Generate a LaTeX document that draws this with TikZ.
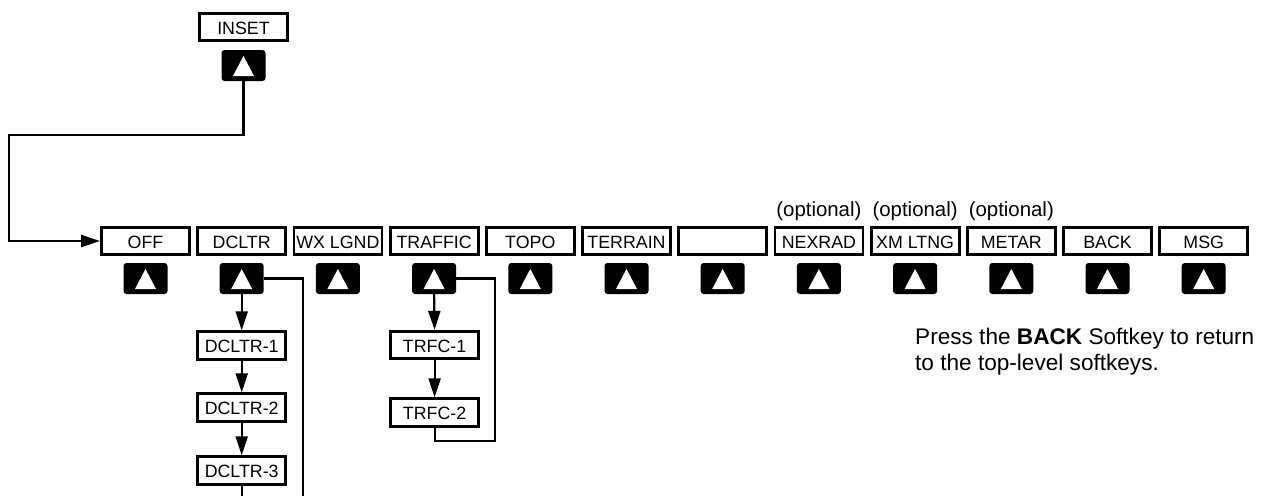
\documentclass[tikz,border=0pt]{standalone}
\usepackage{fontspec}
\setmainfont{Liberation Sans}
\usetikzlibrary{arrows.meta}
\tikzset{
  sk/.style={draw, line width=2.8pt, minimum width=88pt, minimum height=27.5pt, inner sep=0pt,
    font=\fontsize{17.8}{20}\selectfont, text height=14.5pt, text depth=0pt},
  key/.style={fill=black, rounded corners=3pt, minimum width=44pt, minimum height=31pt, inner sep=0pt,
    path picture={\fill[white, sharp corners]
      ([yshift=9.5pt]path picture bounding box.center) --
      ([xshift=-10.5pt,yshift=-10.5pt]path picture bounding box.center) --
      ([xshift=10.5pt,yshift=-10.5pt]path picture bounding box.center) -- cycle;}},
  conn/.style={line width=2.2pt},
  arr/.style={conn, -{Triangle[length=19pt,width=12pt]}},
  opt/.style={font=\fontsize{20.4}{24}\selectfont, inner sep=0pt},
  note/.style={font=\fontsize{22.6}{26}\selectfont, inner sep=0pt, anchor=base west}
}
\begin{document}
\begin{tikzpicture}[x=1pt,y=-1pt]
\useasboundingbox (0,0) rectangle (1262,496);
% top-level softkeys
\foreach \i/\t in {0/OFF,1/DCLTR,2/WX LGND,3/TRAFFIC,4/TOPO,5/TERRAIN,6/{},7/NEXRAD,8/XM LTNG,9/METAR,10/BACK,11/MSG}{
  \node[sk] (b\i) at ({145.5+96.2*\i},241) {\t};
  \node[key] (k\i) at ({145.5+96.2*\i},278.5) {};
}
% optional labels
\node[opt] (o7) at (818.9,211) {(optional)};
\node[opt] (o8) at (915.1,211) {(optional)};
\node[opt] (o9) at (1011.3,211) {(optional)};
% inset
\node[sk] (inset) at (243.5,27) {INSET};
\node[key] (kinset) at (243.5,65.5) {};
\coordinate (turn) at (9,135);
\draw[arr] (kinset.south) |- (turn) |- (b0.west);
% declutter chain
\node[sk] (d1) at (241.7,345.5) {DCLTR-1};
\node[sk] (d2) at (241.7,407.5) {DCLTR-2};
\node[sk] (d3) at (241.7,470.5) {DCLTR-3};
\draw[arr] (k1.south) -- (d1.north);
\draw[arr] (d1.south) -- (d2.north);
\draw[arr] (d2.south) -- (d3.north);
\coordinate (d3end) at (241.7,496);
\draw[conn] (d3.south) -- (d3end);
\coordinate (dret) at (303,496);
\draw[conn] (k1.east) -| (dret);
% traffic chain
\node[sk] (t1) at (434.6,345) {TRFC-1};
\node[sk] (t2) at (434.6,412.5) {TRFC-2};
\draw[arr] (k3.south) -- (t1.north);
\draw[arr] (t1.south) -- (t2.north);
\coordinate (tret) at (495,441);
\draw[conn] (t2.south) |- (tret) |- (k3.east);
% note
\node[note] (n1) at (915,344) {Press the \textbf{BACK} Softkey to return};
\node[note] (n2) at (915,370) {to the top-level softkeys.};
\end{tikzpicture}
\end{document}
